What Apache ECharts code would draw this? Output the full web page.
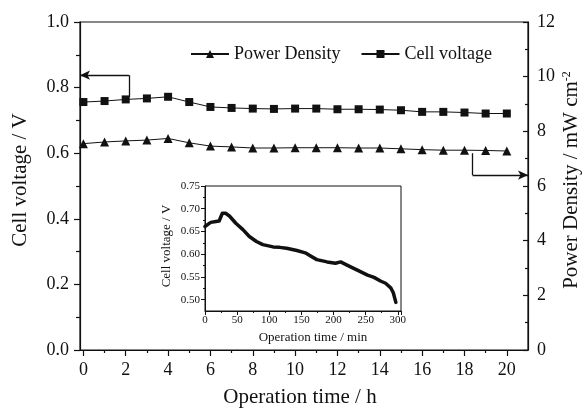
<!DOCTYPE html>
<html>
<head>
<meta charset="utf-8">
<script src="https://cdn.jsdelivr.net/npm/echarts@6/dist/echarts.min.js"></script>
<style>
  html, body { margin: 0; padding: 0; background: #fff; }
  #main { width: 585px; height: 410px; }
</style>
</head>
<body>
<div id="main"></div>
<script>
// main plot: hourly points
const hours = [0, 1, 2, 3, 4, 5, 6, 7, 8, 9, 10, 11, 12, 13, 14, 15, 16, 17, 18, 19, 20]
const cellVoltage = [0.756, 0.759, 0.764, 0.767, 0.772, 0.756, 0.741, 0.738, 0.736, 0.735,
  0.736, 0.736, 0.734, 0.734, 0.733, 0.731, 0.726, 0.726, 0.724, 0.721, 0.721]
const powerDensity = [7.55, 7.61, 7.65, 7.68, 7.74, 7.58, 7.46, 7.43, 7.39, 7.39,
  7.40, 7.40, 7.40, 7.39, 7.39, 7.36, 7.33, 7.31, 7.31, 7.30, 7.28]

// inset: first 300 min
const insetMinutes = [0, 5, 9, 17, 22, 25, 27, 32, 38, 48, 59, 69, 80, 90, 106, 116, 127, 143,
  156, 163, 174, 190, 203, 211, 221, 237, 253, 263, 273, 281, 289, 293, 297]
const insetVoltage = [0.661, 0.666, 0.670, 0.672, 0.673, 0.675, 0.690, 0.690, 0.684, 0.668,
  0.654, 0.639, 0.628, 0.621, 0.616, 0.615, 0.613, 0.608, 0.603, 0.597, 0.588, 0.583, 0.580,
  0.583, 0.576, 0.565, 0.554, 0.549, 0.541, 0.536, 0.526, 0.515, 0.494]

// tick labels
const hourLabels = [0, 2, 4, 6, 8, 10, 12, 14, 16, 18, 20]
const hourMinor = [1, 3, 5, 7, 9, 11, 13, 15, 17, 19]
const insetVoltLabels = [0.5, 0.55, 0.6, 0.65, 0.7, 0.75]
const insetVoltMinor = [0.525, 0.575, 0.625, 0.675, 0.725]

// arrow annotations (data space)
const voltArrow = [[2.15, 0.772], [2.15, 0.838], [-0.16, 0.838]]
const powerArrow = [[18.38, 7.2], [18.38, 6.4], [21, 6.4]]

const FONT = 'Liberation Serif, Times New Roman, serif'
const INK = '#111'

const chart = echarts.init(document.getElementById('main'))

const arrowLines = (pts) => [
  [{ coord: pts[0], symbol: 'none' }, { coord: pts[1], symbol: 'none' }],
  [{ coord: pts[1], symbol: 'none' }, { coord: pts[2], symbol: 'arrow' }],
]

const markLineBase = {
  silent: true,
  symbolSize: [7, 10],
  label: { show: false },
  lineStyle: { color: INK, width: 1.3, type: 'solid' },
  emphasis: { disabled: true },
  animation: false,
}

const axisLine = { show: true, onZero: false, lineStyle: { color: INK, width: 1.2 } }

chart.setOption({
  animation: false,
  textStyle: { fontFamily: FONT, color: INK },
  legend: {
    data: ['Power Density', 'Cell voltage'],
    left: 190,
    top: 45,
    padding: 0,
    itemWidth: 38,
    itemHeight: 10,
    itemGap: 20,
    textStyle: { fontFamily: FONT, fontSize: 18, color: INK },
  },
  grid: [
    { left: 80, right: 57, top: 22, bottom: 60, show: true, borderColor: INK, borderWidth: 1.2 },
    { left: 205, top: 186, width: 196, height: 125, show: true, borderColor: INK, borderWidth: 1 },
  ],
  xAxis: [
    {
      type: 'value', gridIndex: 0, position: 'bottom', min: -0.16, max: 21,
      axisLine,
      axisTick: { show: true, length: 6, customValues: hourLabels, lineStyle: { color: INK, width: 1.2 } },
      axisLabel: { customValues: hourLabels, fontSize: 18, margin: 11, color: INK, fontFamily: FONT },
      splitLine: { show: false },
    },
    {
      type: 'value', gridIndex: 0, position: 'bottom', min: -0.16, max: 21,
      axisLine: { show: false, onZero: false },
      axisTick: { show: true, length: 3, customValues: hourMinor, lineStyle: { color: INK, width: 1.2 } },
      axisLabel: { show: false },
      splitLine: { show: false },
    },
    {
      type: 'value', gridIndex: 1, position: 'bottom', min: 0, max: 305, interval: 50,
      axisLine: { show: true, onZero: false, lineStyle: { color: INK, width: 1 } },
      axisTick: { show: true, length: 4, lineStyle: { color: INK } },
      minorTick: { show: true, splitNumber: 2, length: 2, lineStyle: { color: INK } },
      axisLabel: { fontSize: 11, margin: 4, color: INK, fontFamily: FONT },
      splitLine: { show: false },
    },
  ],
  yAxis: [
    {
      type: 'value', gridIndex: 0, position: 'left', min: 0, max: 1, interval: 0.2,
      axisLine,
      axisTick: { show: true, length: 6, lineStyle: { color: INK, width: 1.2 } },
      minorTick: { show: true, splitNumber: 2, length: 4, lineStyle: { color: INK, width: 1.2 } },
      axisLabel: { fontSize: 18, margin: 11, color: INK, fontFamily: FONT, formatter: (v) => v.toFixed(1) },
      splitLine: { show: false },
    },
    {
      type: 'value', gridIndex: 0, position: 'right', min: 0, max: 12, interval: 2,
      axisLine,
      axisTick: { show: true, inside: true, length: 5, lineStyle: { color: INK, width: 1.2 } },
      minorTick: { show: true, splitNumber: 2, length: 3, lineStyle: { color: INK, width: 1.2 } },
      axisLabel: { fontSize: 18, margin: 9, color: INK, fontFamily: FONT },
      splitLine: { show: false },
    },
    {
      type: 'value', gridIndex: 1, position: 'left', min: 0.475, max: 0.75,
      axisLine: { show: true, onZero: false, lineStyle: { color: INK, width: 1 } },
      axisTick: { show: true, length: 4, customValues: insetVoltLabels, lineStyle: { color: INK } },
      axisLabel: { customValues: insetVoltLabels, fontSize: 11, margin: 5, color: INK, fontFamily: FONT,
        formatter: (v) => v.toFixed(2) },
      splitLine: { show: false },
    },
    {
      type: 'value', gridIndex: 1, position: 'left', min: 0.475, max: 0.75,
      axisLine: { show: false, onZero: false },
      axisTick: { show: true, length: 2, customValues: insetVoltMinor, lineStyle: { color: INK } },
      axisLabel: { show: false },
      splitLine: { show: false },
    },
  ],
  graphic: [
    {
      type: 'text', x: 300, y: 397,
      style: { text: 'Operation time / h', font: '21px ' + FONT, fill: INK, align: 'center', verticalAlign: 'middle' },
    },
    {
      type: 'text', x: 20, y: 180, rotation: Math.PI / 2,
      style: { text: 'Cell voltage / V', font: '21px ' + FONT, fill: INK, align: 'center', verticalAlign: 'middle' },
    },
    {
      type: 'text', x: 571, y: 180, rotation: Math.PI / 2,
      style: {
        text: '{a|Power Density / mW cm}{b|-2}',
        align: 'center', verticalAlign: 'middle',
        rich: {
          a: { fontFamily: FONT, fontSize: 21, lineHeight: 20, fill: INK, color: INK },
          b: { fontFamily: FONT, fontSize: 12, lineHeight: 12, verticalAlign: 'top', fill: INK, color: INK },
        },
      },
    },
    {
      type: 'text', x: 313, y: 338,
      style: { text: 'Operation time / min', font: '13px ' + FONT, fill: INK, align: 'center', verticalAlign: 'middle' },
    },
    {
      type: 'text', x: 167, y: 246, rotation: Math.PI / 2,
      style: { text: 'Cell voltage / V', font: '13px ' + FONT, fill: INK, align: 'center', verticalAlign: 'middle' },
    },
  ],
  series: [
    {
      name: 'Power Density', type: 'line', xAxisIndex: 0, yAxisIndex: 1,
      data: hours.map((h, i) => [h, powerDensity[i]]),
      symbol: 'triangle', symbolSize: 9, showSymbol: true,
      lineStyle: { color: INK, width: 1 }, itemStyle: { color: INK },
      markLine: { ...markLineBase, data: arrowLines(powerArrow) },
    },
    {
      name: 'Cell voltage', type: 'line', xAxisIndex: 0, yAxisIndex: 0,
      data: hours.map((h, i) => [h, cellVoltage[i]]),
      symbol: 'rect', symbolSize: 8, showSymbol: true,
      lineStyle: { color: INK, width: 1 }, itemStyle: { color: INK },
      markLine: { ...markLineBase, data: arrowLines(voltArrow) },
    },
    {
      name: 'inset', type: 'line', xAxisIndex: 2, yAxisIndex: 2,
      data: insetMinutes.map((t, i) => [t, insetVoltage[i]]),
      symbol: 'none',
      lineStyle: { color: INK, width: 3.5, join: 'round', cap: 'round' },
    },
  ],
})
</script>
</body>
</html>
